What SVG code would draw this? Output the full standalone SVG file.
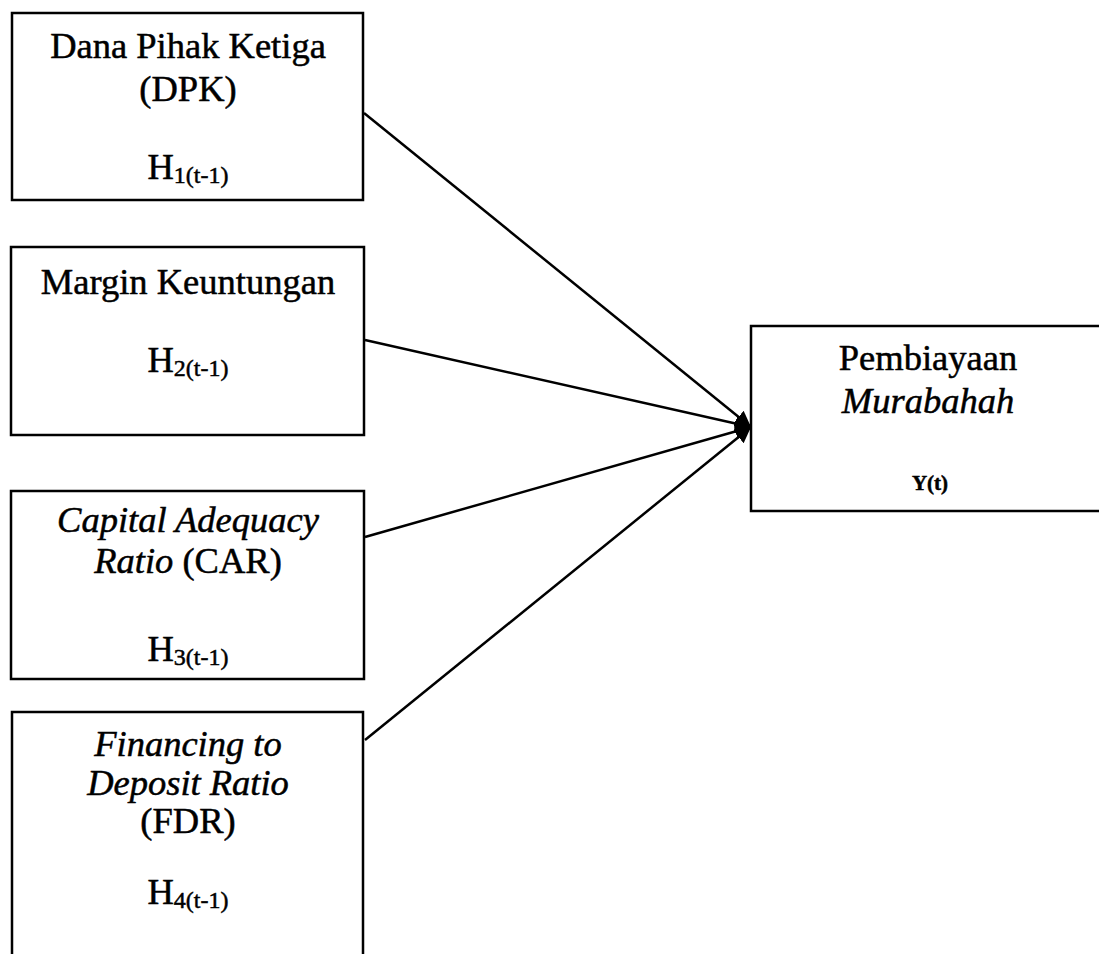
<svg xmlns="http://www.w3.org/2000/svg" width="1099" height="954" viewBox="0 0 1099 954">
<style>
.box{fill:#fff;stroke:#000;stroke-width:2.5}
.t{font-family:"Liberation Serif","Times New Roman",serif;font-size:36.5px;fill:#000;stroke:#000;stroke-width:0.5;text-anchor:middle}
.i{font-style:italic}
.sub{font-size:24px}
.edge{stroke:#000;stroke-width:2.5;fill:none}
</style>
<defs>
<marker id="ah" viewBox="0 0 10 10" refX="10" refY="5" markerWidth="16" markerHeight="16" markerUnits="userSpaceOnUse" orient="auto"><path d="M0,0 L10,5 L0,10 z" fill="#000"/></marker>
</defs>
<rect width="1099" height="954" fill="#fff"/>
<g id="n1"><rect class="box" x="12" y="13" width="351" height="187"/>
<text class="t" x="188" y="58">Dana Pihak Ketiga</text>
<text class="t" x="188" y="101">(DPK)</text>
<text class="t" x="188" y="179">H<tspan class="sub" dy="4">1(t-1)</tspan></text></g>
<g id="n2"><rect class="box" x="11" y="247" width="353" height="188"/>
<text class="t" x="188" y="294">Margin Keuntungan</text>
<text class="t" x="188" y="372">H<tspan class="sub" dy="4">2(t-1)</tspan></text></g>
<g id="n3"><rect class="box" x="11" y="491" width="353" height="188"/>
<text class="t" x="188" y="532"><tspan class="i">Capital Adequacy</tspan></text>
<text class="t" x="188" y="573"><tspan class="i">Ratio</tspan> (CAR)</text>
<text class="t" x="188" y="661">H<tspan class="sub" dy="4">3(t-1)</tspan></text></g>
<g id="n4"><rect class="box" x="12" y="712" width="351" height="260"/>
<text class="t i" x="188" y="756">Financing to</text>
<text class="t i" x="188" y="795">Deposit Ratio</text>
<text class="t" x="188" y="833">(FDR)</text>
<text class="t" x="188" y="904">H<tspan class="sub" dy="4">4(t-1)</tspan></text></g>
<g id="n5"><rect class="box" x="751" y="326" width="360" height="185"/>
<text class="t" x="928" y="370">Pembiayaan</text>
<text class="t i" x="928" y="413">Murabahah</text>
<text class="t" x="930" y="490" style="font-size:21px;font-weight:bold">Y(t)</text></g>
<g id="edges">
<line class="edge" x1="364" y1="113" x2="751" y2="427" marker-end="url(#ah)"/>
<line class="edge" x1="365" y1="340" x2="751" y2="427" marker-end="url(#ah)"/>
<line class="edge" x1="365" y1="537" x2="751" y2="427" marker-end="url(#ah)"/>
<line class="edge" x1="365" y1="740" x2="751" y2="427" marker-end="url(#ah)"/>
</g>
</svg>
